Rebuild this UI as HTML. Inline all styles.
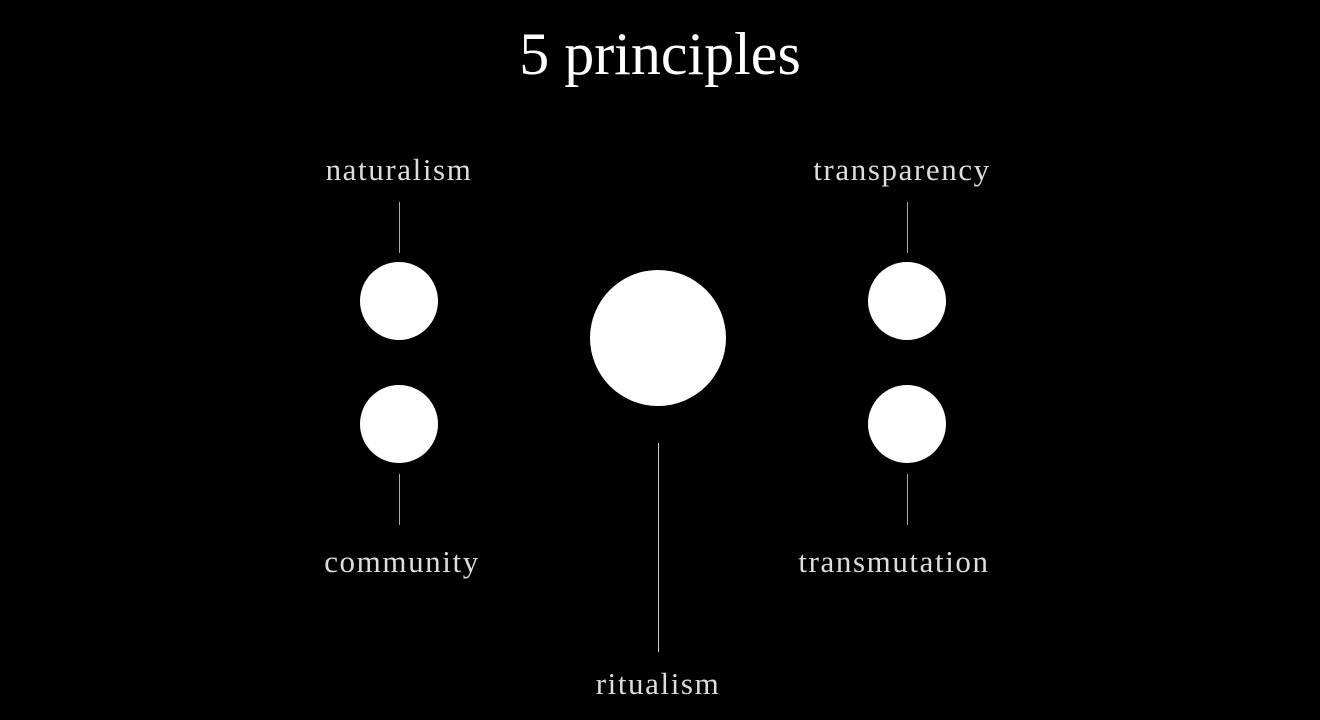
<!DOCTYPE html>
<html><head><meta charset="utf-8"><style>
html,body{margin:0;padding:0;background:#000;}
body{width:1320px;height:720px;position:relative;overflow:hidden;font-family:"Liberation Serif",serif;}
.t{position:absolute;color:#ddd;font-size:31px;text-align:center;width:300px;letter-spacing:1.6px;line-height:1;}
.c{position:absolute;background:#fff;border-radius:50%;}
.l{position:absolute;width:1px;background:#aaa;}
</style></head><body>
<div style="position:absolute;left:0;width:1320px;top:24px;text-align:center;color:#fff;font-size:60px;line-height:1;">5 principles</div>

<div class="t" style="left:249px;top:154px;">naturalism</div>
<div class="l" style="left:399px;top:202px;height:51px;"></div>
<div class="c" style="left:360px;top:262px;width:78px;height:78px;"></div>
<div class="c" style="left:360px;top:385px;width:78px;height:78px;"></div>
<div class="l" style="left:399px;top:474px;height:51px;"></div>
<div class="t" style="left:252px;top:546px;">community</div>

<div class="t" style="left:752px;top:154px;">transparency</div>
<div class="l" style="left:907px;top:202px;height:51px;"></div>
<div class="c" style="left:868px;top:262px;width:78px;height:78px;"></div>
<div class="c" style="left:868px;top:385px;width:78px;height:78px;"></div>
<div class="l" style="left:907px;top:474px;height:51px;"></div>
<div class="t" style="left:744px;top:546px;">transmutation</div>

<div class="c" style="left:590px;top:270px;width:136px;height:136px;"></div>
<div class="l" style="left:658px;top:443px;height:209px;background:#ccc;"></div>
<div class="t" style="left:508px;top:668px;">ritualism</div>
</body></html>
